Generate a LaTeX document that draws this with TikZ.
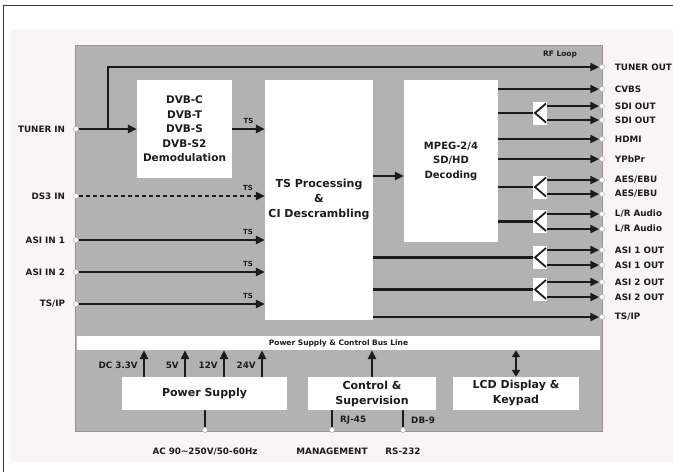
\documentclass[tikz,border=0pt]{standalone}
\usepackage{fontspec}
\setmainfont{DejaVu Sans}
\usetikzlibrary{arrows.meta,positioning,calc}

\definecolor{panelgray}{RGB}{178,178,178}
\definecolor{paneledge}{RGB}{155,147,150}
\definecolor{pagepink}{RGB}{249,244,246}
\definecolor{inkgray}{RGB}{28,28,28}

\tikzset{
  blk/.style={fill=white, align=center, text=inkgray, inner sep=0pt,
    font=\bfseries\fontsize{10.5}{14.5}\selectfont},
  bigblk/.style={blk, font=\bfseries\fontsize{11}{15}\selectfont},
  port/.style={circle, draw=gray!60, fill=white, line width=0.5pt, inner sep=0pt, minimum size=5pt},
  sig/.style={line width=2.6pt, draw=inkgray, -{Triangle[length=9pt,width=8pt]}},
  wire/.style={line width=2.6pt, draw=inkgray},
  lbl/.style={font=\bfseries\fontsize{8.8}{10}\selectfont, text=inkgray, inner sep=1pt},
  tslbl/.style={font=\bfseries\fontsize{7}{8}\selectfont, text=inkgray, inner sep=1pt},
  splitter/.style={fill=white, minimum width=14pt, minimum height=23pt, inner sep=0pt,
    path picture={\draw[line width=1.8pt, inkgray]
      ([shift={(-1pt,-2pt)}]path picture bounding box.north east)
      -- ([xshift=2pt]path picture bounding box.west)
      -- ([shift={(-1pt,2pt)}]path picture bounding box.south east);}},
}

\begin{document}
\begin{tikzpicture}[x=1pt, y=-1pt]
    \useasboundingbox (0,0) rectangle (673,472);

    % Page and frame
    \fill[pagepink] (10,30) rectangle (673,462);
    \draw[line width=0.8pt, black!80] (3,472) -- (3,5) -- (673,5);

    % Unit panel and bus line
    \draw[fill=panelgray, draw=paneledge, line width=1pt] (75,45) rectangle (602,431);
    \node[fill=white, minimum width=523pt, minimum height=14pt, inner sep=0pt,
      font=\bfseries\fontsize{7.5}{9}\selectfont, text=inkgray] (bus) at (338.5,343)
      {Power Supply \& Control Bus Line};
    \node[tslbl, font=\bfseries\fontsize{7.5}{9}\selectfont] (rfloop) at (560,55) {RF Loop};

    % Main blocks
    \node[blk, minimum width=95pt, minimum height=98pt] (demod) at (184.5,129)
      {DVB-C\\DVB-T\\DVB-S\\DVB-S2\\Demodulation};
    \node[bigblk, minimum width=108pt, minimum height=240pt] (tsp) at (319,200)
      {TS Processing\\\&\\CI Descrambling};
    \node[blk, font=\bfseries\fontsize{10}{14.5}\selectfont, minimum width=94pt,
      minimum height=162pt] (mpeg) at (451,161) {MPEG-2/4\\SD/HD\\Decoding};

    % Bottom blocks
    \node[bigblk, minimum width=165pt, minimum height=33pt] (ps) at (204.5,393.5) {Power Supply};
    \node[bigblk, minimum width=128pt, minimum height=33pt] (ctrl) at (372,393.5) {Control \&\\Supervision};
    \node[bigblk, minimum width=126pt, minimum height=33pt] (lcd) at (516,393.5) {LCD Display \&\\Keypad};

    % Input ports
    \foreach \name/\y/\txt in {tunerin/129/TUNER IN, ds3in/196/DS3 IN, asiin1/240/ASI IN 1,
        asiin2/272/ASI IN 2, tsipin/304/{TS/IP}} {
      \node[port] (\name) at (76,\y) {};
      \node[lbl, left=7pt of \name] (\name-l) {\txt};
    }

    % Output ports
    \foreach \name/\y/\txt in {tunerout/67/TUNER OUT, cvbs/89/CVBS, sdia/106/SDI OUT,
        sdib/120/SDI OUT, hdmi/139/HDMI, ypbpr/159/YPbPr, aesa/180/{AES/EBU},
        aesb/194/{AES/EBU}, lra/214/{L/R Audio}, lrb/229/{L/R Audio},
        asioa/250/ASI 1 OUT, asiob/265/ASI 1 OUT, asioc/282/ASI 2 OUT,
        asiod/297/ASI 2 OUT, tsipout/317/{TS/IP}} {
      \node[port] (\name) at (602,\y) {};
      \node[lbl, right=9pt of \name] (\name-l) {\txt};
    }

    % Tuner input and RF loop
    \coordinate (loop) at (108,129);
    \draw[sig] (tunerin.east) -- (demod.west);
    \draw[sig] (loop) |- (tunerout.west);
    \draw[sig] (demod.east) -- (demod.east -| tsp.west) node[tslbl, midway, above=3pt] (ts0) {TS};

    % Other inputs into TS processing
    \draw[sig, dash pattern=on 4pt off 3pt] (ds3in.east) -- (ds3in -| tsp.west)
      node[tslbl, pos=.91, above=3pt] (ts1) {TS};
    \foreach \name in {asiin1, asiin2, tsipin}
      \draw[sig] (\name.east) -- (\name -| tsp.west) node[tslbl, pos=.91, above=3pt] (ts-\name) {TS};

    % TS processing to decoder
    \coordinate (dec) at (390,176);
    \draw[sig] (tsp.east |- dec) -- (mpeg.west |- dec);

    % Splitters
    \node[splitter] (spsdi) at (540,113) {};
    \node[splitter] (spaes) at (540,187) {};
    \node[splitter] (splr) at (540,221.5) {};
    \node[splitter] (spasia) at (540,257.5) {};
    \node[splitter] (spasib) at (540,289.5) {};

    % Decoder outputs
    \foreach \name in {cvbs, hdmi, ypbpr}
      \draw[sig] (mpeg.east |- \name) -- (\name.west);
    \foreach \sp/\a/\b in {spsdi/sdia/sdib, spaes/aesa/aesb, splr/lra/lrb} {
      \draw[wire] (mpeg.east |- \sp) -- (\sp.west);
      \draw[sig] (\sp.east |- \a) -- (\a.west);
      \draw[sig] (\sp.east |- \b) -- (\b.west);
    }

    % TS outputs
    \foreach \sp/\a/\b in {spasia/asioa/asiob, spasib/asioc/asiod} {
      \draw[wire] (tsp.east |- \sp) -- (\sp.west);
      \draw[sig] (\sp.east |- \a) -- (\a.west);
      \draw[sig] (\sp.east |- \b) -- (\b.west);
    }
    \draw[sig] (tsp.east |- tsipout) -- (tsipout.west);

    % Supply voltages to the bus
    \foreach \x/\v in {144/DC 3.3V, 185/5V, 224/12V, 262/24V} {
      \coordinate (v\x) at (\x,377);
      \draw[sig] (v\x) -- (v\x |- bus.south);
      \node[lbl, anchor=east] (vl\x) at (\x-5,365) {\v};
    }
    \draw[sig] (ctrl.north) -- (ctrl.north |- bus.south);
    \draw[wire, {Triangle[length=7pt,width=8pt]}-{Triangle[length=7pt,width=8pt]}]
      (lcd.north) -- (lcd.north |- bus.south);

    % Bottom connectors
    \node[port] (acin) at (205,430) {};
    \node[port] (rj45) at (332,430) {};
    \node[port] (db9) at (403,430) {};
    \draw[wire] (ps.south -| acin) -- (acin.north);
    \draw[wire] (ctrl.south -| rj45) -- (rj45.north);
    \draw[wire] (ctrl.south -| db9) -- (db9.north);
    \node[lbl, anchor=west] (rjl) at (339,420) {RJ-45};
    \node[lbl, anchor=west] (dbl) at (410,420) {DB-9};
    \node[lbl, below=14pt of acin] (acl) {AC 90\textasciitilde 250V/50-60Hz};
    \node[lbl, below=14pt of rj45] (mgl) {MANAGEMENT};
    \node[lbl, below=14pt of db9] (rsl) {RS-232};
\end{tikzpicture}
\end{document}
